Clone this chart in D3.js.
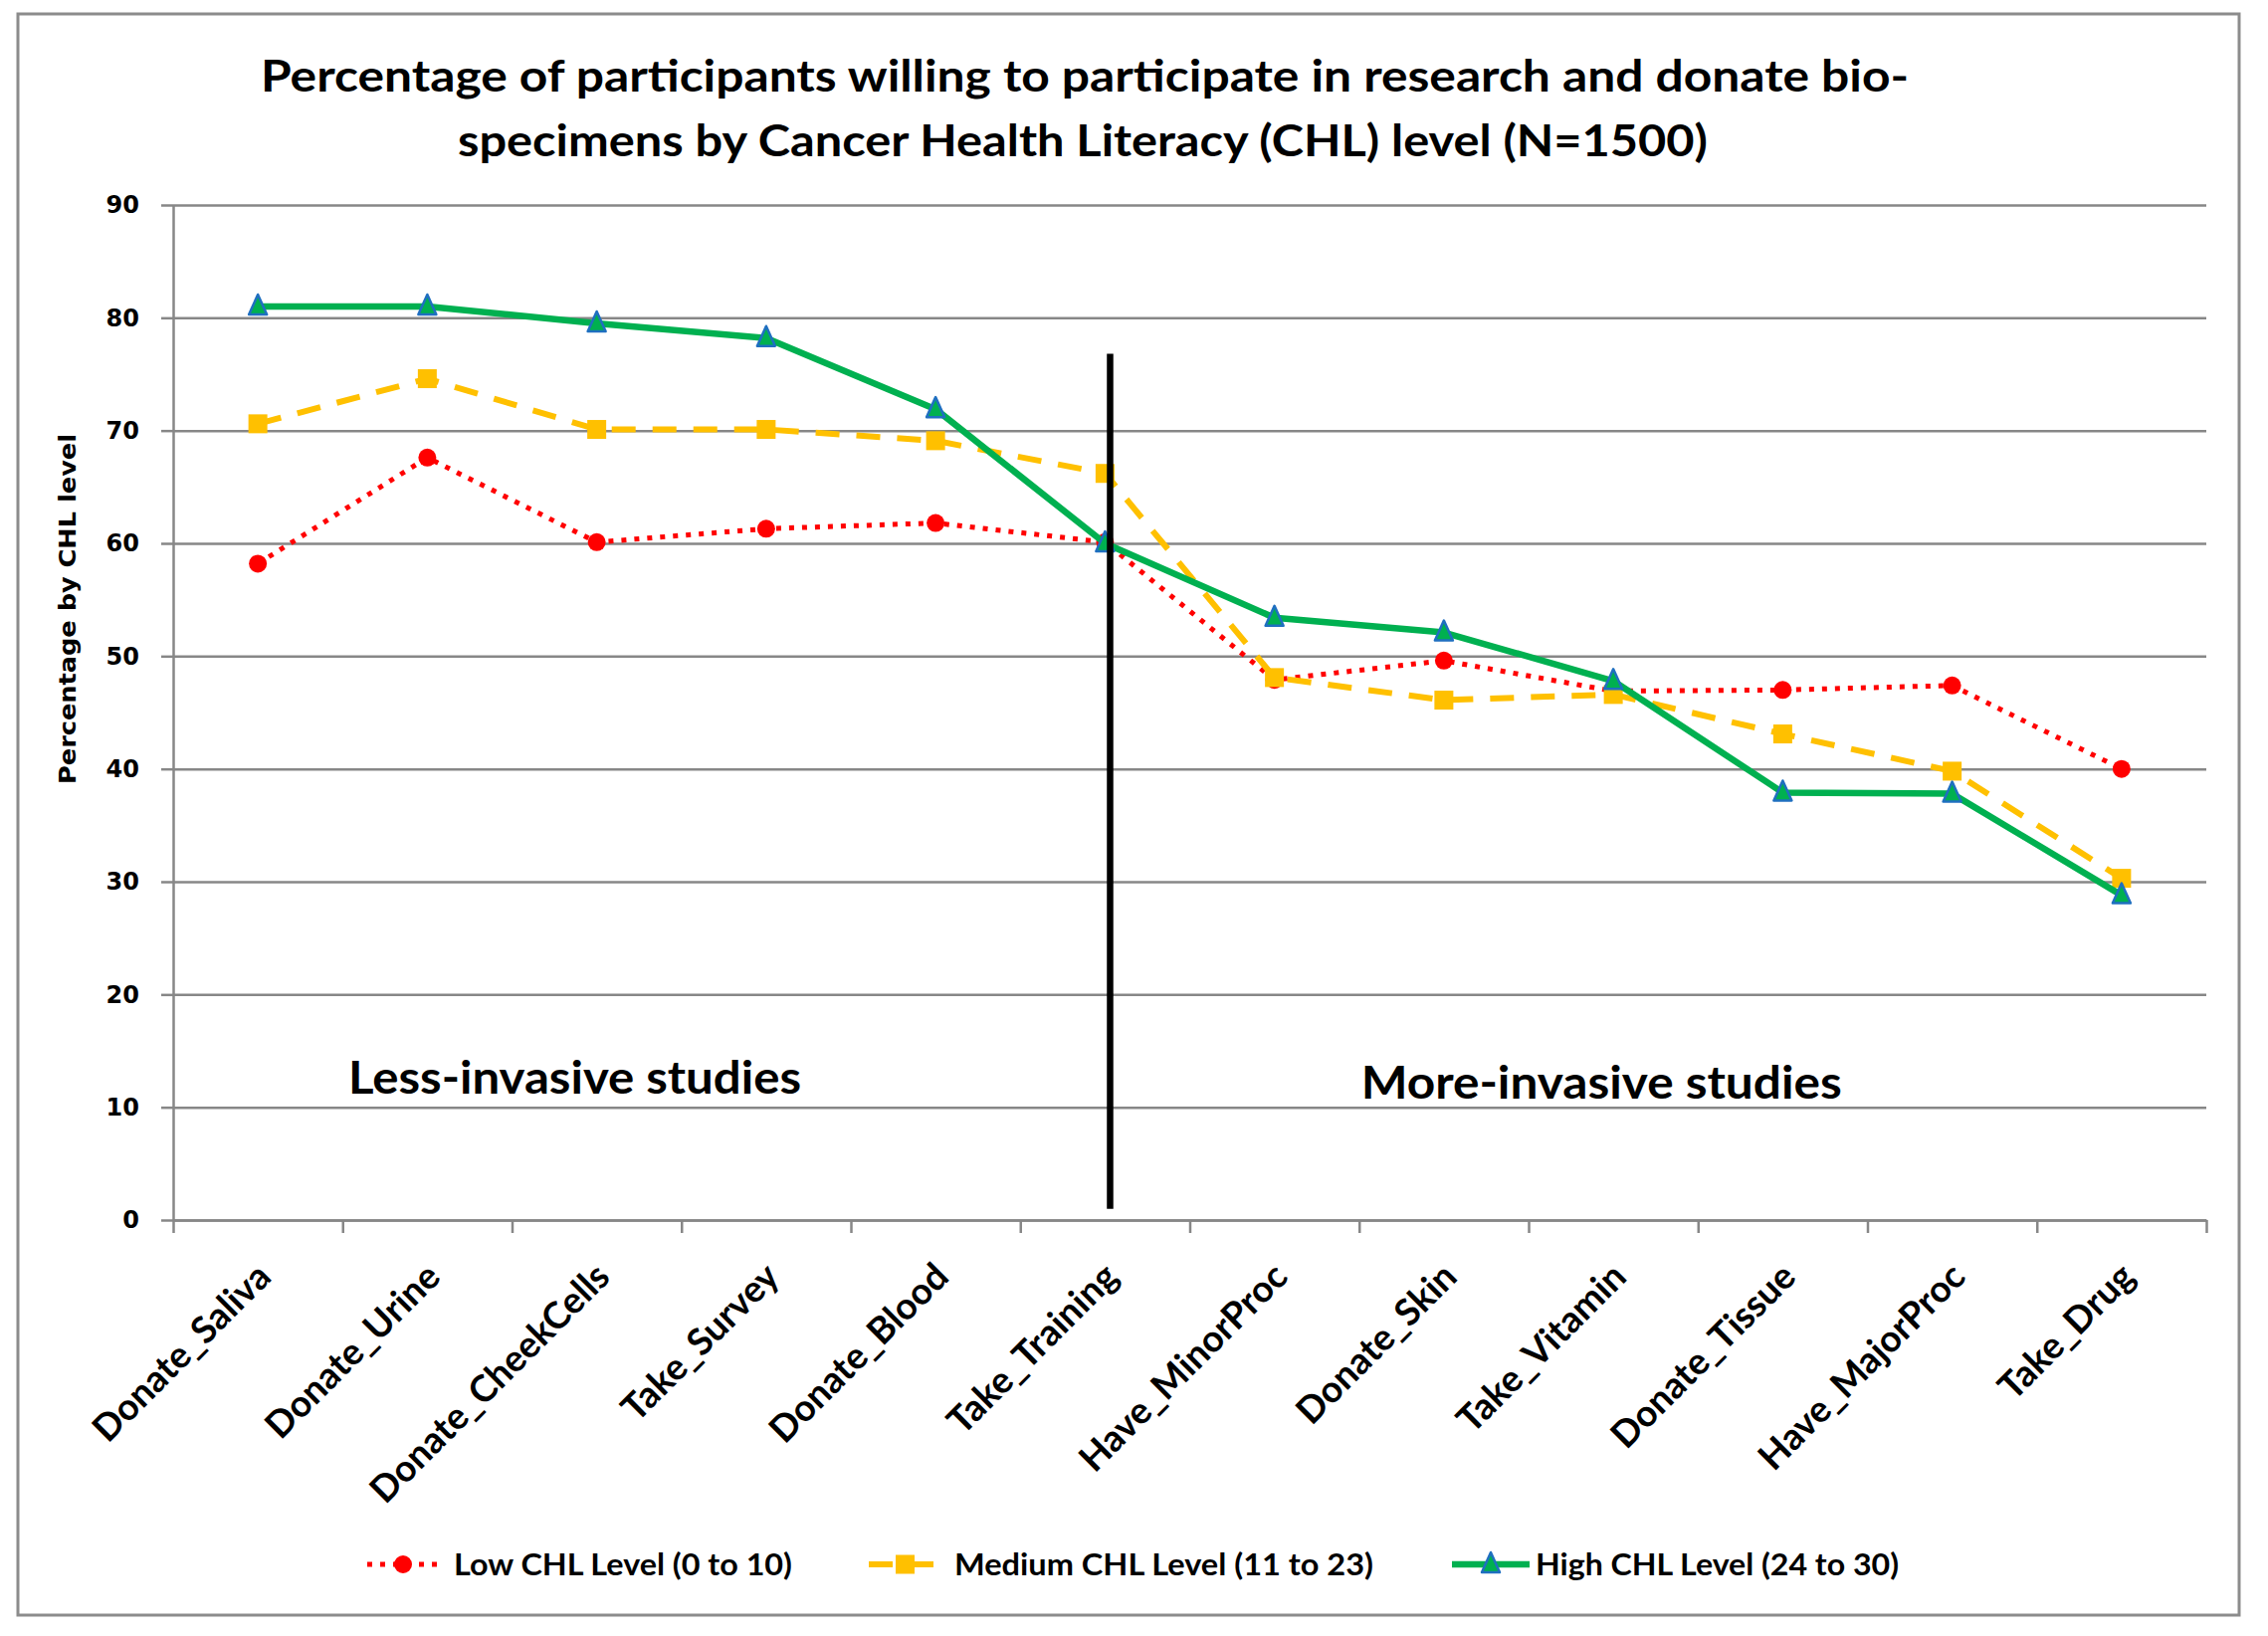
<!DOCTYPE html>
<html>
<head>
<meta charset="utf-8">
<script src="https://cdn.jsdelivr.net/npm/d3@7"></script>
<style>
  html, body { margin: 0; padding: 0; background: #fff; }
</style>
</head>
<body>
<div id="chart"></div>
<script>
// chart data
var categories = ["Donate_Saliva", "Donate_Urine", "Donate_CheekCells", "Take_Survey", "Donate_Blood",
  "Take_Training", "Have_MinorProc", "Donate_Skin", "Take_Vitamin", "Donate_Tissue", "Have_MajorProc", "Take_Drug"];
var lowCHL    = [58.2, 67.6, 60.1, 61.3, 61.8, 60.1, 47.9, 49.6, 46.9, 47.0, 47.4, 40.0];
var mediumCHL = [70.6, 74.6, 70.1, 70.1, 69.1, 66.2, 48.1, 46.1, 46.6, 43.1, 39.8, 30.3];
var highCHL   = [81.0, 81.0, 79.5, 78.2, 71.9, 60.0, 53.4, 52.1, 47.8, 37.9, 37.8, 28.8];
var seriesNames = ["Low CHL Level (0 to 10)", "Medium CHL Level (11 to 23)", "High CHL Level (24 to 30)"];
var yTicks = [0, 10, 20, 30, 40, 50, 60, 70, 80, 90];
var regionLabels = ["Less-invasive studies", "More-invasive studies"];
var dividerSpan = [1, 76.8];
var titleLines = ["Percentage of participants willing to participate in research and donate bio-",
  "specimens by Cancer Health Literacy (CHL) level (N=1500)"];
var yTitle = "Percentage by CHL level";

(function(){
  var W = 2279, H = 1644;
  var left = 174, right = 2217, top = 206, bottom = 1226;
  var grey = "#878787";
  var calibri = "Lato, 'Open Sans', sans-serif";

  var svg = d3.select("#chart").append("svg").attr("width", W).attr("height", H)
    .style("background", "#fff");

  svg.append("rect").attr("x", 18).attr("y", 14).attr("width", 2232).attr("height", 1609)
    .attr("fill", "#fff").attr("stroke", "#8c8c8c").attr("stroke-width", 3);

  var x = d3.scaleBand().domain(categories).range([left, right]).padding(0);
  var xEdge = d3.scaleLinear().domain([0, categories.length]).range([left, right]);
  var y = d3.scaleLinear().domain([0, 90]).range([bottom, top]);
  var cx = function(c){ return x(c) + x.bandwidth() / 2; };

  // gridlines
  svg.append("g").attr("transform", "translate(" + left + ",0)")
    .call(d3.axisLeft(y).tickValues(yTicks).tickSize(-(right - left)).tickFormat(""))
    .call(function(g){ g.select(".domain").remove(); })
    .selectAll("line").attr("stroke", grey).attr("stroke-width", 2.5);

  // y axis
  var ya = svg.append("g").attr("transform", "translate(" + left + ",0)")
    .call(d3.axisLeft(y).tickValues(yTicks).tickSize(12).tickPadding(22).tickSizeOuter(0));
  ya.select(".domain").attr("stroke", grey).attr("stroke-width", 2.5);
  ya.selectAll("line").attr("stroke", grey).attr("stroke-width", 2.5);
  ya.selectAll("text").attr("font-family", "'DejaVu Sans', Verdana, sans-serif")
    .attr("font-weight", "bold").attr("font-size", 24).attr("fill", "#000");

  // x axis (ticks between categories)
  var xa = svg.append("g").attr("transform", "translate(0," + bottom + ")")
    .call(d3.axisBottom(xEdge).tickValues(d3.range(categories.length + 1)).tickFormat("").tickSize(13).tickSizeOuter(0));
  xa.select(".domain").attr("stroke", grey).attr("stroke-width", 2.5);
  xa.selectAll("line").attr("stroke", grey).attr("stroke-width", 2.5);

  svg.append("g").selectAll("text").data(categories).enter().append("text")
    .attr("transform", function(d){ return "translate(" + (cx(d) + 6) + "," + (bottom + 50) + ") rotate(-45)"; })
    .attr("text-anchor", "end").attr("dy", "0.35em")
    .attr("font-family", calibri).attr("font-weight", "bold").attr("font-size", 37)
    .attr("fill", "#000").text(function(d){ return d; });

  // y title
  svg.append("text").attr("transform", "translate(68,612) rotate(-90)")
    .attr("text-anchor", "middle").attr("dy", "0.35em")
    .attr("font-family", "'DejaVu Sans', Verdana, sans-serif").attr("font-weight", "bold")
    .attr("font-size", 23).attr("textLength", 352).attr("lengthAdjust", "spacingAndGlyphs")
    .text(yTitle);

  // title
  svg.append("text").attr("x", 1090).attr("y", 92).attr("text-anchor", "middle")
    .attr("font-family", calibri).attr("font-weight", "bold").attr("font-size", 44)
    .attr("textLength", 1656).attr("lengthAdjust", "spacingAndGlyphs").text(titleLines[0]);
  svg.append("text").attr("x", 1088).attr("y", 157).attr("text-anchor", "middle")
    .attr("font-family", calibri).attr("font-weight", "bold").attr("font-size", 44)
    .attr("textLength", 1256).attr("lengthAdjust", "spacingAndGlyphs").text(titleLines[1]);

  var series = [
    {name: seriesNames[0], values: lowCHL, color: "#ff0000", width: 5, dash: "5,8", marker: "circle"},
    {name: seriesNames[1], values: mediumCHL, color: "#ffc000", width: 6, dash: "24,17", marker: "square"},
    {name: seriesNames[2], values: highCHL, color: "#00b050", width: 6.5, dash: null, marker: "triangle"}
  ];

  var line = d3.line().x(function(d){ return cx(d.c); }).y(function(d){ return y(d.v); });

  function drawMarker(g, type, px, py, color){
    if (type === "circle") {
      g.append("circle").attr("cx", px).attr("cy", py).attr("r", 9).attr("fill", color);
    } else if (type === "square") {
      g.append("rect").attr("x", px - 9.5).attr("y", py - 9.5).attr("width", 19).attr("height", 19).attr("fill", color);
    } else {
      g.append("path").attr("d", "M" + px + "," + (py - 12) + "L" + (px + 9) + "," + (py + 8) + "L" + (px - 9) + "," + (py + 8) + "Z")
        .attr("fill", color).attr("stroke", "#1f6fc0").attr("stroke-width", 2.5).attr("stroke-linejoin", "round");
    }
  }

  series.forEach(function(s){
    var pts = categories.map(function(c, i){ return {c: c, v: s.values[i]}; });
    var g = svg.append("g");
    g.append("path").datum(pts).attr("d", line).attr("fill", "none")
      .attr("stroke", s.color).attr("stroke-width", s.width)
      .attr("stroke-dasharray", s.dash).attr("stroke-linejoin", "round");
    pts.forEach(function(p){ drawMarker(g, s.marker, cx(p.c), y(p.v), s.color); });
  });

  // divider between less and more invasive studies (drawn just right of Take_Training)
  svg.append("line").attr("x1", xEdge(5.53)).attr("x2", xEdge(5.53))
    .attr("y1", y(dividerSpan[0])).attr("y2", y(dividerSpan[1]))
    .attr("stroke", "#000").attr("stroke-width", 6.5);

  // region labels
  svg.append("text").attr("x", xEdge(2.37)).attr("y", y(11.2)).attr("text-anchor", "middle")
    .attr("font-family", calibri).attr("font-weight", "bold").attr("font-size", 46)
    .attr("textLength", 455).attr("lengthAdjust", "spacingAndGlyphs").text(regionLabels[0]);
  svg.append("text").attr("x", xEdge(8.43)).attr("y", y(10.8)).attr("text-anchor", "middle")
    .attr("font-family", calibri).attr("font-weight", "bold").attr("font-size", 46)
    .attr("textLength", 483).attr("lengthAdjust", "spacingAndGlyphs").text(regionLabels[1]);

  // legend
  var legendY = 1572;
  var legendItems = [
    {x0: 369, x1: 441, tx: 456, tw: 340},
    {x0: 873, x1: 946, tx: 959, tw: 421},
    {x0: 1459, x1: 1537, tx: 1543, tw: 365}
  ];
  var lg = svg.append("g");
  series.forEach(function(s, i){
    var it = legendItems[i];
    lg.append("line").attr("x1", it.x0).attr("x2", it.x1).attr("y1", legendY).attr("y2", legendY)
      .attr("stroke", s.color).attr("stroke-width", s.width).attr("stroke-dasharray", s.dash);
    drawMarker(lg, s.marker, (it.x0 + it.x1) / 2, legendY, s.color);
    lg.append("text").attr("x", it.tx).attr("y", legendY).attr("dy", "0.35em")
      .attr("font-family", calibri).attr("font-weight", "bold").attr("font-size", 30)
      .attr("textLength", it.tw).attr("lengthAdjust", "spacingAndGlyphs").text(s.name);
  });
})();
</script>
</body>
</html>
